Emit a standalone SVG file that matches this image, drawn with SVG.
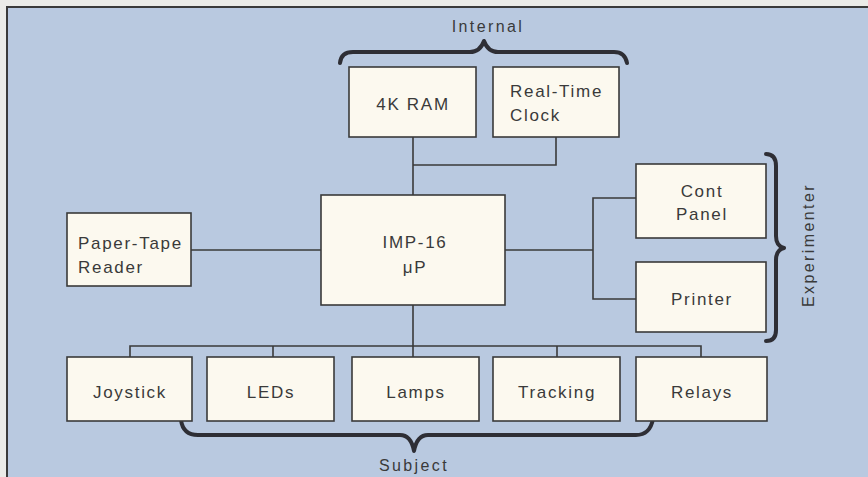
<svg xmlns="http://www.w3.org/2000/svg" width="868" height="477" viewBox="0 0 868 477">
<style>
.box{fill:#fcf9ef;stroke:#3a3a3a;stroke-width:1.6}
.t{font-family:"Liberation Sans",Arial,sans-serif;font-size:17px;letter-spacing:1.7px;fill:#3a3a3a}
.c{text-anchor:middle}
.lbl{font-family:"Liberation Sans",Arial,sans-serif;font-size:16px;letter-spacing:2.4px;fill:#3a3a3a;text-anchor:middle}
.ln{fill:none;stroke:#3a3a3a;stroke-width:1.6}
.br{fill:none;stroke:#2e2e35;stroke-width:4;stroke-linecap:round;stroke-linejoin:round}
</style>
<rect x="0" y="0" width="868" height="477" fill="#ebebe8"/>
<rect x="7" y="7" width="861" height="470" fill="#b9c9e0"/>
<path d="M7,477 L7,7 L868,7" fill="none" stroke="#3a3a3a" stroke-width="2"/>
<g id="connectors">
<path class="ln" d="M413,137 L413,195"/>
<path class="ln" d="M413,165 L556,165 L556,137"/>
<path class="ln" d="M191,250 L321,250"/>
<path class="ln" d="M505,250 L593,250"/>
<path class="ln" d="M636,198 L593,198 L593,299 L636,299"/>
<path class="ln" d="M413,305 L413,357"/>
<path class="ln" d="M130,357 L130,346 L701,346 L701,357"/>
<path class="ln" d="M273,346 L273,357"/>
<path class="ln" d="M557,346 L557,357"/>
</g>
<g id="braces">
<path class="br" d="M340,63 Q341,52 353,52 L470,52 Q480,52 484,41 Q488,52 498,52 L614,52 Q625,52 627,63"/>
<path class="br" d="M766,154 Q776,154 776,166 L776,236 Q776,246 784,248 Q776,250 776,260 L776,330 Q776,341 766,341"/>
<path class="br" d="M181,420 Q183,435 198,435 L400,435 Q411,435 414,451 Q417,435 428,435 L636,435 Q650,435 653,419"/>
</g>
<g id="label-internal"><text class="lbl" x="488" y="32">Internal</text></g>
<g id="label-experimenter"><text class="lbl" transform="translate(814,245) rotate(-90)">Experimenter</text></g>
<g id="label-subject"><text class="lbl" x="414" y="471">Subject</text></g>
<g id="ram"><rect class="box" x="349" y="67" width="127" height="70"/><text class="t c" x="413" y="110">4K RAM</text></g>
<g id="clock"><rect class="box" x="493" y="67" width="126" height="70"/><text class="t" x="510" y="97">Real-Time</text><text class="t" x="510" y="121">Clock</text></g>
<g id="imp16"><rect class="box" x="321" y="195" width="184" height="110"/><text class="t c" x="415" y="248">IMP-16</text><text class="t c" x="415" y="273">μP</text></g>
<g id="papertape"><rect class="box" x="67" y="213" width="124" height="73"/><text class="t" x="78" y="249">Paper-Tape</text><text class="t" x="78" y="273">Reader</text></g>
<g id="contpanel"><rect class="box" x="636" y="164" width="130" height="74"/><text class="t c" x="702" y="197">Cont</text><text class="t c" x="702" y="220">Panel</text></g>
<g id="printer"><rect class="box" x="636" y="262" width="130" height="70"/><text class="t c" x="702" y="305">Printer</text></g>
<g id="joystick"><rect class="box" x="67" y="357" width="125" height="64"/><text class="t c" x="130" y="398">Joystick</text></g>
<g id="leds"><rect class="box" x="207" y="357" width="127" height="64"/><text class="t c" x="271" y="398">LEDs</text></g>
<g id="lamps"><rect class="box" x="352" y="357" width="127" height="64"/><text class="t c" x="416" y="398">Lamps</text></g>
<g id="tracking"><rect class="box" x="493" y="357" width="127" height="64"/><text class="t c" x="557" y="398">Tracking</text></g>
<g id="relays"><rect class="box" x="636" y="357" width="131" height="64"/><text class="t c" x="702" y="398">Relays</text></g>
</svg>
